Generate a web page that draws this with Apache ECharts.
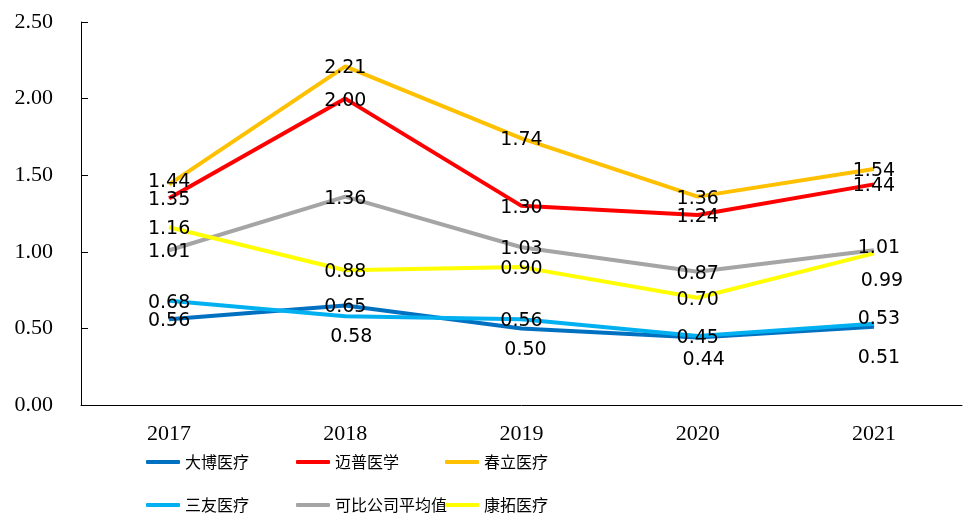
<!DOCTYPE html>
<html>
<head>
<meta charset="utf-8">
<script src="https://cdn.jsdelivr.net/npm/echarts@6/dist/echarts.min.js"></script>
<style>
  html, body { margin: 0; padding: 0; background: #fff; }
  #chart { width: 968px; height: 518px; }
</style>
</head>
<body>
<div id="chart"></div>
<script>
const years = ['2017', '2018', '2019', '2020', '2021']
const yTicks = { min: 0, max: 2.5, step: 0.5 }

const dabo = [0.56, 0.65, 0.50, 0.44, 0.51]
const maipu = [1.35, 2.00, 1.30, 1.24, 1.44]
const chunli = [1.44, 2.21, 1.74, 1.36, 1.54]
const sanyou = [0.68, 0.58, 0.56, 0.45, 0.53]
const average = [1.01, 1.36, 1.03, 0.87, 1.01]
const kangtuo = [1.16, 0.88, 0.90, 0.70, 0.99]

const names = ['大博医疗', '迈普医学', '春立医疗', '三友医疗', '可比公司平均值', '康拓医疗']
const colors = ['#0070C0', '#FF0000', '#FFC000', '#00B0F0', '#A5A5A5', '#FFFF00']
const values = [dabo, maipu, chunli, sanyou, average, kangtuo]

// label nudges where the source moved a label off its point
const labelShift = {
  '大博医疗': { 2: [4, 20], 3: [6, 20], 4: [5, 29] },
  '三友医疗': { 1: [6, 19], 4: [5, -7] },
  '可比公司平均值': { 4: [5, -4] },
  '康拓医疗': { 4: [8, 26] },
  '春立医疗': { 0: [0, -4] },
}

const chart = echarts.init(document.getElementById('chart'))

const series = names.map((name, i) => ({
  name,
  type: 'line',
  symbol: 'circle',
  symbolSize: 1,
  showSymbol: true,
  lineStyle: { color: colors[i], width: 4 },
  itemStyle: { color: colors[i] },
  labelLayout: (p) => {
    const off = (labelShift[name] && labelShift[name][p.dataIndex]) || [0, 0]
    return { dx: off[0], dy: off[1] + 2, hideOverlap: false }
  },
  label: {
    show: true,
    position: 'inside',
    color: '#000',
    fontFamily: 'DejaVu Sans',
    fontSize: 19,
    formatter: (p) => p.value.toFixed(2),
  },
  data: values[i],
}))

const legendPos = [
  [146, 454], [296, 454], [445, 454],
  [146, 497], [296, 497], [445, 497],
]

const legends = names.map((name, i) => ({
  data: [name],
  left: legendPos[i][0],
  top: legendPos[i][1],
  icon: 'roundRect',
  itemWidth: 34,
  itemHeight: 4,
  padding: 0,
  textStyle: { fontFamily: 'Noto Sans CJK SC', fontSize: 16, color: '#000' },
}))

chart.setOption({
  animation: false,
  backgroundColor: '#fff',
  grid: { left: 81, right: 6, top: 22, bottom: 113 },
  legend: legends,
  xAxis: {
    type: 'category',
    data: years,
    axisLine: { lineStyle: { color: '#000', width: 1 } },
    axisTick: { inside: true, length: 7, lineStyle: { color: '#000' } },
    axisLabel: { color: '#000', fontFamily: 'Liberation Serif', fontSize: 22, margin: 18 },
  },
  yAxis: {
    type: 'value',
    min: yTicks.min,
    max: yTicks.max,
    interval: yTicks.step,
    splitLine: { show: false },
    axisLine: { show: true, lineStyle: { color: '#000', width: 1 } },
    axisTick: { show: true, inside: true, length: 7, lineStyle: { color: '#000' } },
    axisLabel: {
      color: '#000',
      fontFamily: 'Liberation Serif',
      fontSize: 22,
      margin: 28,
      formatter: (v) => v.toFixed(2),
    },
  },
  series,
})

window.addEventListener('resize', () => chart.resize())
</script>
</body>
</html>
